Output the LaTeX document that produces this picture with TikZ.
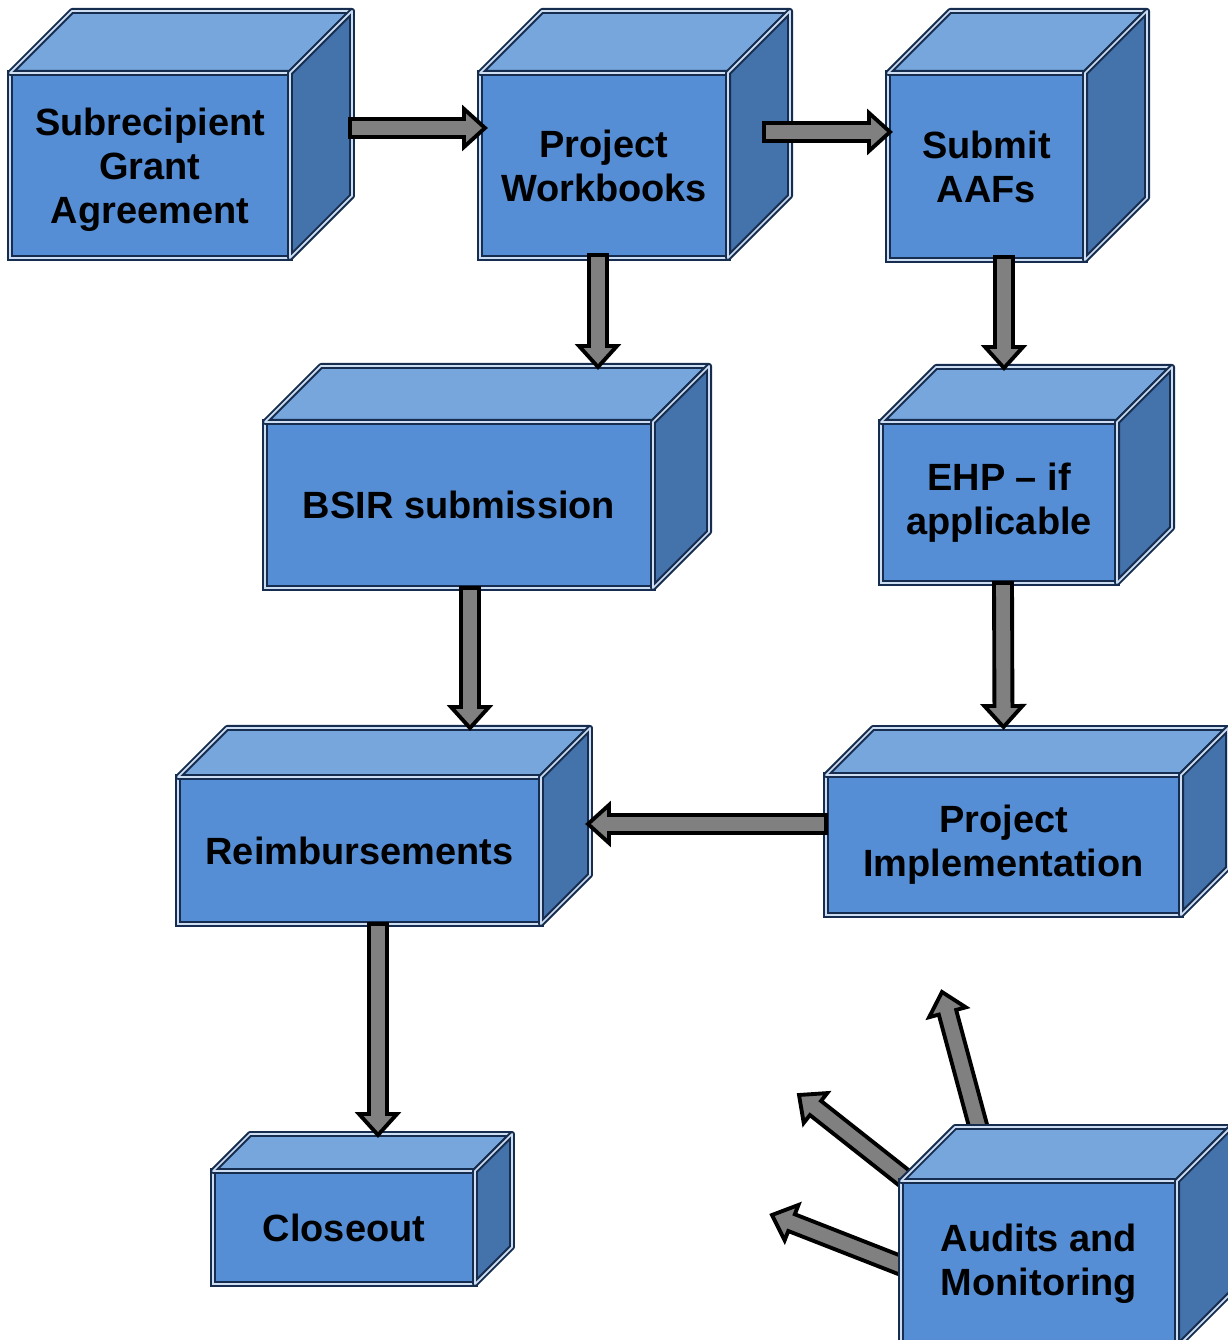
\documentclass[tikz,border=0pt]{standalone}
\usepackage{fontspec}
\setmainfont{Liberation Sans}
\usetikzlibrary{calc,positioning}

\definecolor{boxfront}{RGB}{85,142,213}
\definecolor{boxtop}{RGB}{118,166,220}
\definecolor{boxside}{RGB}{68,114,170}
\definecolor{boxline}{RGB}{22,45,80}
\definecolor{boxinner}{RGB}{205,222,242}

% box with top and side faces: [options] name, position, depth, text
\newcommand{\cubebox}[5][]{%
  \node[frontface,#1] (#2) at (#3) {#5};
  \draw[topface] (#2.north west) -- ++(#4,#4) -- ($(#2.north east)+(#4,#4)$) -- (#2.north east) -- cycle;
  \draw[sideface] (#2.north east) -- ++(#4,#4) -- ($(#2.south east)+(#4,#4)$) -- (#2.south east) -- cycle;
}

% fat arrow from one coordinate to another
\newcommand{\blockarrow}[2]{%
  \coordinate (fa-h) at ($(#2)!0.21cm!(#1)$);
  \draw[arrowbody] ($(#1)!0.09cm!90:(#2)$) -- ($(fa-h)!0.09cm!90:(#2)$) -- ($(fa-h)!0.19cm!90:(#2)$)
    -- (#2) -- ($(fa-h)!0.19cm!-90:(#2)$) -- ($(fa-h)!0.09cm!-90:(#2)$) -- ($(#1)!0.09cm!-90:(#2)$) -- cycle;
}

\begin{document}
\begin{tikzpicture}[
    frontface/.style={draw=boxline, line width=0.6pt, double=boxinner, double distance=0.5pt,
      fill=boxfront, outer sep=0pt, inner sep=2pt, align=center,
      font=\fontsize{10.8}{12.5}\selectfont\bfseries},
    topface/.style={draw=boxline, line width=0.6pt, double=boxinner, double distance=0.5pt, fill=boxtop, line join=round},
    sideface/.style={draw=boxline, line width=0.6pt, double=boxinner, double distance=0.5pt, fill=boxside, line join=round},
    arrowbody/.style={draw=black, line width=1.1pt, fill=gray, line join=miter}
  ]
    \useasboundingbox (0,0) rectangle (12.28,13.4);

    % Audits arrows go behind their box
    \coordinate (amc) at (9.01,1.59);
    \coordinate (a9s) at ($(amc)+(0.79,0.48)$);
    \coordinate (a9e) at ($(amc)+(0.41,1.89)$);
    \coordinate (a10s) at ($(amc)+(0.12,-0.04)$);
    \coordinate (a10e) at ($(amc)+(-1.02,0.86)$);
    \coordinate (a11s) at ($(amc)+(0.09,-0.88)$);
    \coordinate (a11e) at ($(amc)+(-1.29,-0.34)$);
    \blockarrow{a9s}{a9e}
    \blockarrow{a10s}{a10e}
    \blockarrow{a11s}{a11e}

    % Boxes
    \cubebox[minimum width=2.80cm, minimum height=1.85cm]{sga}{1.50,11.745}{0.62}{\rule{0pt}{10.5pt}Subrecipient\\Grant\\Agreement}
    \cubebox[minimum width=2.48cm, minimum height=1.85cm]{wb}{6.04,11.745}{0.62}{Project\\Workbooks}
    \cubebox[minimum width=1.97cm, minimum height=1.87cm]{aaf}{9.865,11.735}{0.62}{Submit\\AAFs}
    \cubebox[minimum width=3.88cm, minimum height=1.66cm]{bsir}{4.59,8.35}{0.56}{BSIR submission}
    \cubebox[minimum width=2.36cm, minimum height=1.61cm]{ehp}{9.99,8.375}{0.55}{EHP -- if\\applicable}
    \cubebox[minimum width=3.63cm, minimum height=1.47cm]{reim}{3.595,4.895}{0.49}{Reimbursements}
    \cubebox[minimum width=3.55cm, minimum height=1.40cm]{pi}{10.035,4.95}{0.47}{Project\\Implementation}
    \cubebox[minimum width=2.62cm, minimum height=1.13cm]{co}{3.44,1.125}{0.37}{Closeout}
    \cubebox[minimum width=2.76cm, minimum height=1.66cm]{am}{10.39,0.76}{0.54}{Audits and\\Monitoring}

    % Arrows between boxes
    \coordinate (a1s) at ($(sga.east)+(0.60,0.375)$);
    \coordinate (a1e) at ($(wb.west)+(0.05,0.375)$);
    \coordinate (a2s) at ($(wb.east)+(0.36,0.335)$);
    \coordinate (a2e) at ($(aaf.west)+(0.02,0.345)$);
    \coordinate (a3s) at ($(wb.south)+(-0.06,0.03)$);
    \coordinate (a3e) at ($(bsir.north)+(1.39,0.55)$);
    \coordinate (a4s) at ($(aaf.south)+(0.175,0.03)$);
    \coordinate (a4e) at ($(ehp.north)+(0.05,0.54)$);
    \coordinate (a5s) at ($(bsir.south)+(0.11,0)$);
    \coordinate (a5e) at ($(reim.north)+(1.105,0.49)$);
    \coordinate (a6s) at ($(ehp.south)+(0.04,0)$);
    \coordinate (a6e) at ($(pi.north)+(0,0.48)$);
    \coordinate (a7s) at ($(pi.west)+(0,0.21)$);
    \coordinate (a7e) at ($(reim.east)+(0.47,0.265)$);
    \coordinate (a8s) at ($(reim.south)+(0.185,0)$);
    \coordinate (a8e) at ($(co.north)+(0.34,0.36)$);
    \blockarrow{a1s}{a1e}
    \blockarrow{a2s}{a2e}
    \blockarrow{a3s}{a3e}
    \blockarrow{a4s}{a4e}
    \blockarrow{a5s}{a5e}
    \blockarrow{a6s}{a6e}
    \blockarrow{a7s}{a7e}
    \blockarrow{a8s}{a8e}
\end{tikzpicture}
\end{document}
